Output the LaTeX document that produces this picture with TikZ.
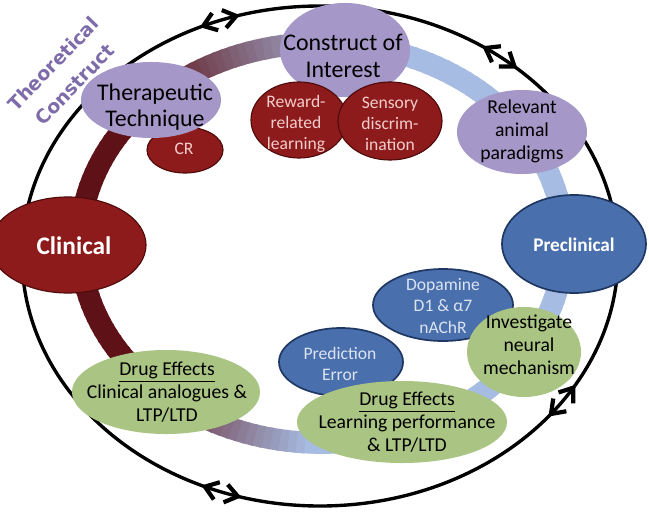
\documentclass[tikz,border=0pt]{standalone}
\usepackage{fontspec}
\setmainfont{Carlito}
\newfontfamily\verdfont{DejaVu Sans}
\usetikzlibrary{shapes.geometric,decorations.markings}

\definecolor{clinred}{HTML}{8E1B1B}
\definecolor{darkred}{HTML}{4F0B0B}
\definecolor{lilac}{HTML}{A597C7}
\definecolor{preblue}{HTML}{4A6FAD}
\definecolor{navy}{HTML}{1F3763}
\definecolor{leaf}{HTML}{AAC483}
\definecolor{bandred}{HTML}{5E1217}
\definecolor{bandblue}{HTML}{A6BCE2}
\definecolor{theory}{HTML}{7D6BAA}
\definecolor{pinktext}{HTML}{F4CCCC}
\definecolor{paleblue}{HTML}{DCE4F2}

\newcommand\txtbig{\fontsize{17}{19}\selectfont}
\newcommand\txtmid{\fontsize{14}{16.3}\selectfont}
\newcommand\txtsmall{\fontsize{12.5}{15}\selectfont}
% open barbs, forward and backward along the path
\newcommand\fwdbarb{\draw[barb] (-9pt,6.5pt) -- (0,0) -- (-9pt,-6.5pt);}
\newcommand\backbarb{\draw[barb] (9pt,6.5pt) -- (0,0) -- (9pt,-6.5pt);}

\tikzset{
  blob/.style 2 args={ellipse, inner sep=0pt, minimum width=#1*0.5mm, minimum height=#2*0.5mm},
  redblob/.style 2 args={blob={#1}{#2}, fill=clinred, draw=darkred, line width=0.8pt},
  blueblob/.style 2 args={blob={#1}{#2}, fill=preblue, draw=navy, line width=1.2pt},
  lilacblob/.style 2 args={blob={#1}{#2}, fill=lilac},
  greenblob/.style 2 args={blob={#1}{#2}, fill=leaf},
  txt/.style={align=center, inner sep=0pt},
  band/.style={line width=15.5pt},
  barb/.style={line width=3pt, line join=miter},
}

\begin{document}
\begin{tikzpicture}[x=0.025cm, y=-0.025cm]
\useasboundingbox (0,0) rectangle (649,512);

% outer cycle with double arrows
\draw[line width=2.4pt, postaction={decorate}, decoration={markings,
    mark=at position 0.082 with {\backbarb},
    mark=at position 0.102 with {\fwdbarb},
    mark=at position 0.298 with {\backbarb},
    mark=at position 0.318 with {\fwdbarb},
    mark=at position 0.681 with {\backbarb},
    mark=at position 0.701 with {\fwdbarb},
    mark=at position 0.850 with {\backbarb},
    mark=at position 0.870 with {\fwdbarb}}]
  (320,256) ellipse [x radius=298, y radius=250];

% inner band, red to blue
\foreach \a in {90,92,...,448}{
  \pgfmathsetmacro\bmix{100*max(0,min(1,(135-\a)/43)) + 100*max(0,min(1,(\a-225)/50))}
  \draw[band, bandblue!\bmix!bandred] ({322+242*cos(\a)},{243+200*sin(\a)}) -- ({322+242*cos(\a+2.6)},{243+200*sin(\a+2.6)});
}

\node[theory, txt, rotate=46, font=\verdfont\bfseries\fontsize{13.5}{21}\selectfont] (theorylbl) at (64,74) {Theoretical\\Construct};

% clinical side
\node[redblob={78}{48}] (clinical) at (68,245) {};
\node[txt, white, font=\bfseries\fontsize{18}{20}\selectfont] (clinicaltxt) at (74,246) {Clinical};

\node[redblob={38}{23}] (cr) at (185,150) {};
\node[txt, pinktext, font=\txtsmall] (crtxt) at (184,149) {CR};

\node[lilacblob={70}{38}] (therapy) at (151,100) {};
\node[txt, font=\txtbig] (therapytxt) at (155,107) {Therapeutic\\Technique};

\node[lilacblob={65}{47}] (construct) at (345,50) {};
\node[txt, font=\txtbig] (constructtxt) at (343,56) {Construct of\\Interest};

\node[redblob={48}{38}] (reward) at (299,120) {};
\node[txt, pinktext, font=\txtsmall] (rewardtxt) at (296,124) {Reward-\\related\\learning};

\node[redblob={52}{39}] (sensory) at (390,121) {};
\node[txt, pinktext, font=\txtsmall] (sensorytxt) at (390,124) {Sensory\\discrim-\\ination};

\node[lilacblob={65}{42}] (animal) at (522,132) {};
\node[txt, font=\txtmid] (animaltxt) at (522,131) {Relevant\\animal\\paradigms};

% preclinical side
\node[blueblob={72}{49}] (preclinical) at (574,244) {};
\node[txt, white, font=\bfseries\fontsize{13.7}{16}\selectfont] (preclinicaltxt) at (574,245) {Preclinical};

\node[blueblob={70}{36}] (dopamine) at (443,305) {};
\node[txt, paleblue, font=\txtsmall] (dopaminetxt) at (443,306) {Dopamine\\D1 \& α7\\nAChR};

\node[greenblob={57}{45}] (neural) at (524,352) {};
\node[txt, font=\txtmid] (neuraltxt) at (529,345) {Investigate\\neural\\mechanism};

\node[blueblob={62}{34}] (prediction) at (341,362) {};
\node[txt, paleblue, font=\txtsmall] (predictiontxt) at (340,364) {Prediction\\Error};

\node[greenblob={105}{41}] (drugpre) at (402,422) {};
\node[txt, font=\txtmid] (drugpretxt) at (407,422) {\underline{Drug Effects}\\Learning performance\\\& LTP/LTD};

\node[greenblob={94}{42}] (drugclin) at (166,392) {};
\node[txt, font=\txtmid] (drugclintxt) at (167,392) {\underline{Drug Effects}\\Clinical analogues \&\\LTP/LTD};
\end{tikzpicture}
\end{document}
